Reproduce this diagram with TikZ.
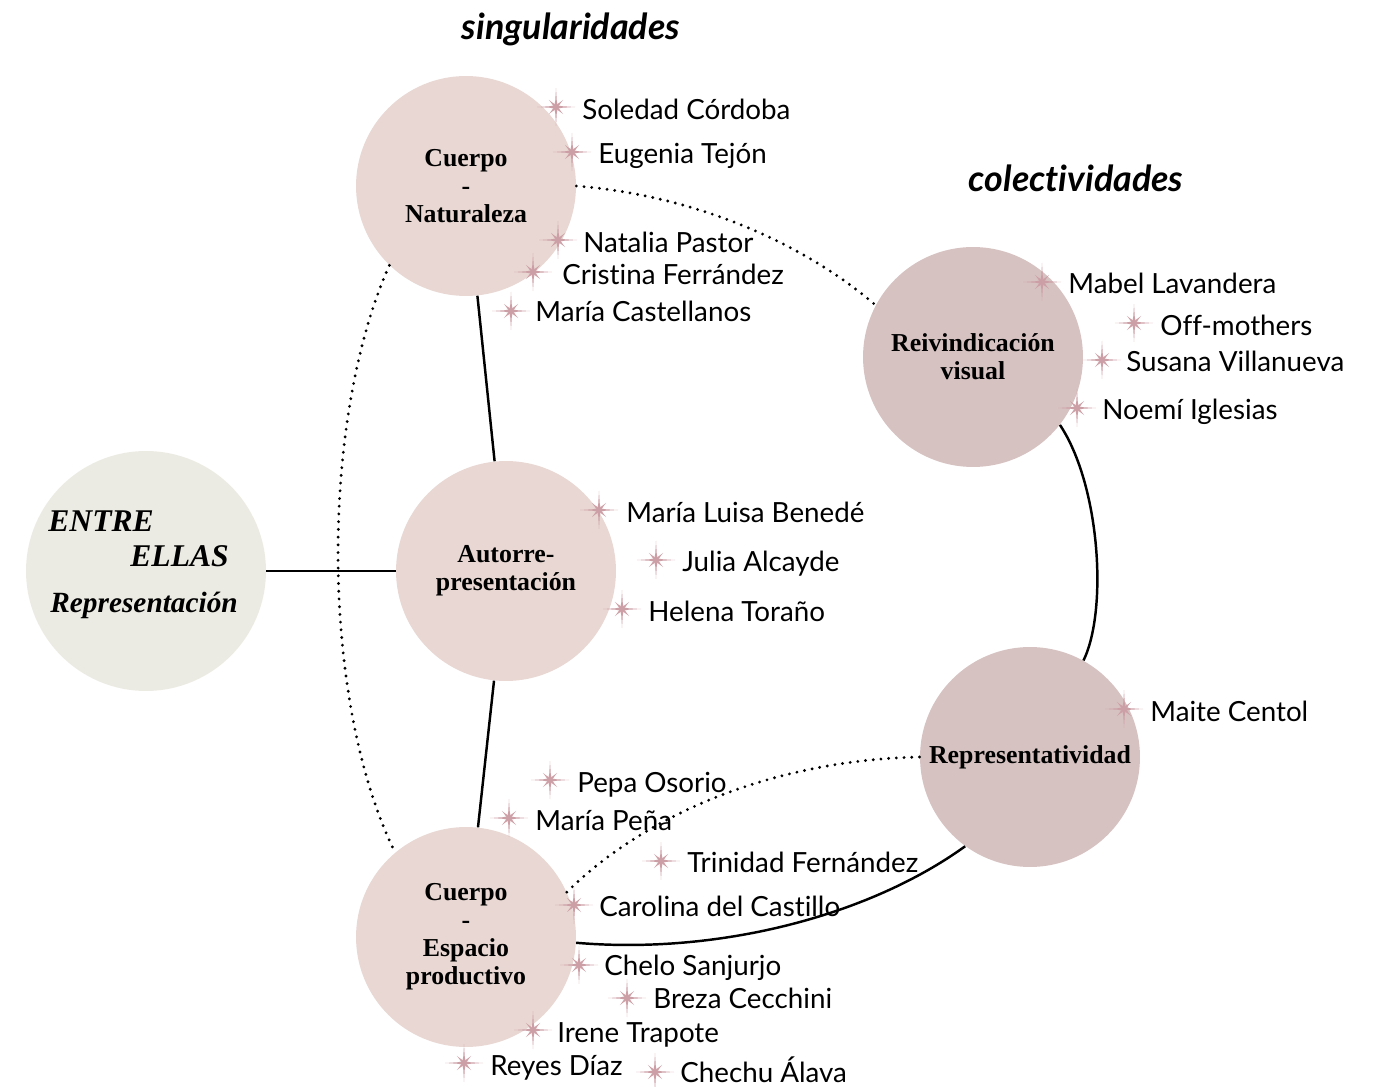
\documentclass[tikz,border=0pt]{standalone}
\usepackage{fontspec}
\setmainfont{Liberation Serif}
\newfontfamily\namefont[Ligatures=NoCommon]{Lato}

\definecolor{entreBeige}{HTML}{ECEBE3}
\definecolor{singPink}{HTML}{E8D7D2}
\definecolor{colMauve}{HTML}{D7C2C2}
\definecolor{sparkPink}{HTML}{CC9FA6}

\begin{document}
\begin{tikzpicture}[
        x=0.02cm, y=-0.02cm,
        every node/.style={inner sep=0pt},
        hubCircle/.style={circle, minimum size=4.4cm, align=center,
            font=\fontsize{14.7}{16}\selectfont\bfseries},
        singCircle/.style={hubCircle, fill=singPink},
        colCircle/.style={hubCircle, fill=colMauve},
        mainCircle/.style={circle, minimum size=4.8cm, fill=entreBeige},
        mainText/.style={anchor=west, text height=0.68em, text depth=0pt,
            font=\fontsize{18}{20}\selectfont\bfseries\itshape},
        titleText/.style={anchor=base, font=\namefont\fontsize{20.4}{24}\selectfont\bfseries\itshape},
        artist/.style={anchor=west, text height=0.9em, text depth=0pt, yshift=-1.2pt,
            font=\namefont\fontsize{15.8}{18}\selectfont},
        solidLink/.style={black, line width=1.4pt},
        dottedLink/.style={black, line width=1.8pt, dash pattern=on 0pt off 4.4pt, line cap=round},
        spark/.pic={
            \fill[sparkPink, opacity=0.35] (0,0) circle (5);
            \fill[sparkPink] (0:19) -- (22.5:2.6) -- (45:10) -- (67.5:2.6) -- (90:19) -- (112.5:2.6)
                -- (135:10) -- (157.5:2.6) -- (180:19) -- (202.5:2.6) -- (225:10) -- (247.5:2.6)
                -- (270:19) -- (292.5:2.6) -- (315:10) -- (337.5:2.6) -- cycle;
        }
    ]
        \useasboundingbox (0,0) rectangle (1376,1087);

        % Titles of the two groups
        \node[titleText] (singTitle) at (571,40) {singularidades};
        \node[titleText] (colTitle) at (1076,192) {colectividades};

        % Main circle
        \node[mainCircle] (entre) at (146,571) {};
        \node[mainText] (entreA) at (48,526) {ENTRE};
        \node[mainText] (entreB) at (130,561) {ELLAS};
        \node[mainText, font=\fontsize{16.7}{18}\selectfont\bfseries\itshape] (entreC) at (50,607) {Representación};

        % Singularities
        \node[singCircle] (nat) at (466,186) {Cuerpo\\-\\Naturaleza};
        \node[singCircle] (auto) at (506,571) {Autorre-\\presentación};
        \node[singCircle] (esp) at (466,937) {Cuerpo\\-\\Espacio\\productivo};

        % Collectivities
        \node[colCircle] (reiv) at (973,357) {Reivindicación\\visual};
        \node[colCircle] (repr) at (1030,757) {Representatividad};

        % Solid links
        \draw[solidLink] (entre) -- (auto);
        \draw[solidLink] (nat) -- (auto);
        \draw[solidLink] (auto) -- (esp);
        \draw[solidLink] (reiv.-38) .. controls (1100,485) and (1108,610) .. (repr.61);
        \draw[solidLink] (esp.-3) .. controls (720,955) and (870,915) .. (repr.234);

        % Dotted links
        \draw[dottedLink] (nat.east) .. controls (690,195) and (800,240) .. (reiv.152);
        \draw[dottedLink] (nat.226) .. controls (320,420) and (320,700) .. (esp.130);
        \draw[dottedLink] (esp.24) .. controls (650,810) and (780,760) .. (repr.west);

        % Artists around Cuerpo - Naturaleza
        \pic at (556,107) {spark};
        \node[artist] (soledad) at (582,109) {Soledad Córdoba};
        \pic at (572,152) {spark};
        \node[artist] (eugenia) at (598,153) {Eugenia Tejón};
        \pic at (558,240) {spark};
        \node[artist] (natalia) at (583,242) {Natalia Pastor};
        \pic at (533,272) {spark};
        \node[artist] (cristina) at (562,274) {Cristina Ferrández};
        \pic at (511,311) {spark};
        \node[artist] (castellanos) at (535,311) {María Castellanos};

        % Artists around Autorrepresentacion
        \pic at (599,510) {spark};
        \node[artist] (benede) at (626,512) {María Luisa Benedé};
        \pic at (656,560) {spark};
        \node[artist] (julia) at (682,561) {Julia Alcayde};
        \pic at (622,609) {spark};
        \node[artist] (helena) at (648,611) {Helena Toraño};

        % Artists around Cuerpo - Espacio productivo
        \pic at (550,780) {spark};
        \node[artist] (pepa) at (577,782) {Pepa Osorio};
        \pic at (509,818) {spark};
        \node[artist] (pena) at (535,820) {María Peña};
        \pic at (661,861) {spark};
        \node[artist] (trinidad) at (687,862) {Trinidad Fernández};
        \pic at (574,905) {spark};
        \node[artist] (carolina) at (599,906) {Carolina del Castillo};
        \pic at (579,965) {spark};
        \node[artist] (chelo) at (604,965) {Chelo Sanjurjo};
        \pic at (627,998) {spark};
        \node[artist] (breza) at (653,998) {Breza Cecchini};
        \pic at (533,1030) {spark};
        \node[artist] (irene) at (557,1032) {Irene Trapote};
        \pic at (464,1063) {spark};
        \node[artist] (reyes) at (490,1065) {Reyes Díaz};
        \pic at (655,1072) {spark};
        \node[artist] (chechu) at (680,1072) {Chechu Álava};

        % Artists around Reivindicacion visual
        \pic at (1042,282) {spark};
        \node[artist] (mabel) at (1068,283) {Mabel Lavandera};
        \pic at (1134,323) {spark};
        \node[artist] (offm) at (1160,325) {Off-mothers};
        \pic at (1102,360) {spark};
        \node[artist] (susana) at (1126,361) {Susana Villanueva};
        \pic at (1077,408) {spark};
        \node[artist] (noemi) at (1102,409) {Noemí Iglesias};

        % Artist around Representatividad
        \pic at (1124,709) {spark};
        \node[artist] (maite) at (1150,711) {Maite Centol};

    \end{tikzpicture}
\end{document}
